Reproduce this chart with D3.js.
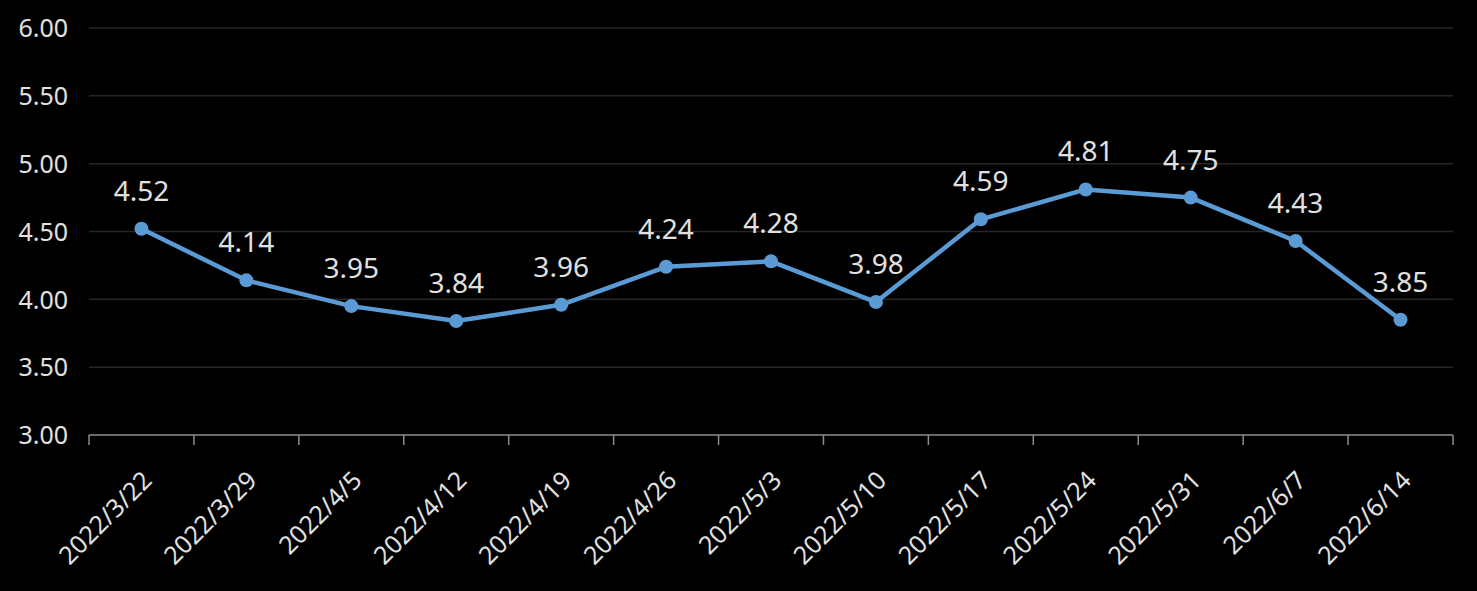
<!DOCTYPE html>
<html><head><meta charset="utf-8">
<script src="https://cdn.jsdelivr.net/npm/d3@7"></script>
<style>html,body{margin:0;padding:0;background:#000;}svg{display:block;}</style>
</head><body>
<svg id="chart" width="1477" height="591"></svg>
<script>
const categories = ["2022/3/22","2022/3/29","2022/4/5","2022/4/12","2022/4/19","2022/4/26","2022/5/3","2022/5/10","2022/5/17","2022/5/24","2022/5/31","2022/6/7","2022/6/14"];
const values = [4.52,4.14,3.95,3.84,3.96,4.24,4.28,3.98,4.59,4.81,4.75,4.43,3.85];
const yTicks = [3.0,3.5,4.0,4.5,5.0,5.5,6.0];

(function(){
const svg = d3.select("#chart");
const W = 1477, H = 591;
svg.append("rect").attr("width", W).attr("height", H).attr("fill", "#000");
const mLeft = 89, mRight = 1453, mTop = 28, mBottom = 435;
const font = "'Noto Sans', 'Open Sans', sans-serif";
const textColor = "#e0e0e0";

const x = d3.scaleBand().domain(categories).range([mLeft, mRight]).paddingInner(0).paddingOuter(0);
const y = d3.scaleLinear().domain([3, 6]).range([mBottom, mTop]);

svg.append("g").selectAll("line").data(yTicks.filter(d => d > 3)).join("line")
  .attr("x1", mLeft).attr("x2", mRight)
  .attr("y1", d => y(d)).attr("y2", d => y(d))
  .attr("stroke", "#262626").attr("stroke-width", 1.5);

const yAxis = svg.append("g").attr("transform", `translate(${mLeft},0)`)
  .call(d3.axisLeft(y).tickValues(yTicks).tickFormat(d3.format(".2f")).tickSize(0).tickPadding(21));
yAxis.select(".domain").remove();
yAxis.selectAll("text").attr("fill", textColor).attr("font-family", font).attr("font-size", 25).attr("dy", "0.35em");

const xTickPos = categories.map(c => x(c)).concat([mRight]);
svg.append("line").attr("x1", mLeft).attr("x2", mRight).attr("y1", mBottom).attr("y2", mBottom)
  .attr("stroke", "#8c8c8c").attr("stroke-width", 1.5);
svg.append("g").selectAll("line").data(xTickPos).join("line")
  .attr("x1", d => d).attr("x2", d => d).attr("y1", mBottom).attr("y2", mBottom + 10)
  .attr("stroke", "#8c8c8c").attr("stroke-width", 1.5);

svg.append("g").selectAll("text").data(categories).join("text")
  .attr("transform", d => `translate(${x(d) + x.bandwidth()/2 + 12},${mBottom + 47}) rotate(-45)`)
  .attr("text-anchor", "end")
  .attr("fill", textColor).attr("font-family", font).attr("font-size", 25)
  .text(d => d);

const cx = d => x(d) + x.bandwidth()/2;
const line = d3.line().x((d,i) => cx(categories[i])).y(d => y(d));
svg.append("path").datum(values).attr("d", line)
  .attr("fill", "none").attr("stroke", "#5b9bd5").attr("stroke-width", 4.5).attr("stroke-linejoin", "round");

svg.append("g").selectAll("circle").data(values).join("circle")
  .attr("cx", (d,i) => cx(categories[i])).attr("cy", d => y(d)).attr("r", 7)
  .attr("fill", "#5b9bd5");

svg.append("g").selectAll("text").data(values).join("text")
  .attr("x", (d,i) => cx(categories[i])).attr("y", d => y(d) - 28)
  .attr("text-anchor", "middle")
  .attr("fill", textColor).attr("font-family", font).attr("font-size", 28)
  .text(d => d.toFixed(2));
})();
</script>
</body></html>
